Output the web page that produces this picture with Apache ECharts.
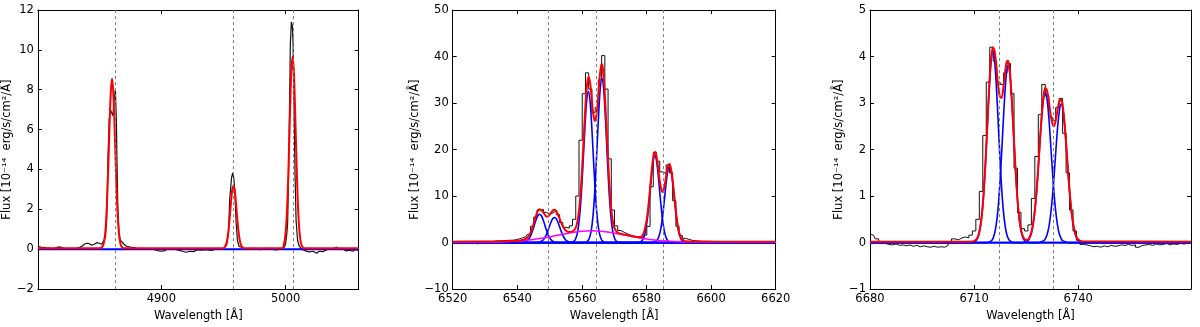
<!DOCTYPE html>
<html><head><meta charset="utf-8">
<script src="https://cdn.jsdelivr.net/npm/echarts@6/dist/echarts.min.js"></script>
<style>html,body{margin:0;padding:0;background:#fff}#c{width:1200px;height:327px}</style>
</head><body><div id="c"></div>
<script>
// ---------- Panel 1 : H-beta + [OIII] ----------
const p1XTicks = [4900, 5000];
const p1YTicks = [-2, 12, 2];
const p1XRange = [4800.6, 5058.8];
const p1Lines = [4862.8, 4958.0, 5006.2];
const p1Black = [[4800.6,0.15],[4802,0.12],[4804,0.08],[4806,0.1],[4808,0.05],[4810,0.06],[4812,0.03],[4814,0.05],[4816,0.1],[4818,0.12],[4820,0.08],[4822,0.03],[4824,0.05],[4826,0.02],[4828,0.0],[4830,0.02],[4832,0.05],[4834,0.08],[4836,0.15],[4838,0.25],[4840,0.3],[4842,0.28],[4844,0.2],[4846,0.25],[4848,0.33],[4850,0.3],[4852,0.25],[4853.5,0.35],[4855,0.6],[4856,1.5],[4857,4.5],[4858,6.5],[4859,7.0],[4860,7.1],[4861,6.7],[4862,7.5],[4863,8.0],[4863.8,6.5],[4864.4,4.0],[4865,2.0],[4866,0.8],[4867,0.45],[4868,0.35],[4870,0.25],[4872,0.15],[4874,0.12],[4876,0.1],[4878,0.08],[4880,0.05],[4884,0.03],[4888,0.0],[4892,0.02],[4896,-0.05],[4899,-0.1],[4902,-0.08],[4905,0.0],[4909,0.02],[4913,-0.03],[4917,-0.1],[4920,-0.15],[4923,-0.1],[4926,-0.12],[4929,-0.03],[4932,-0.05],[4936,-0.02],[4940,-0.06],[4944,0.0],[4947,0.02],[4950,0.05],[4952.5,0.2],[4954,0.8],[4955,2.5],[4956.5,3.6],[4957.4,3.83],[4958.4,3.5],[4959.2,2.8],[4960.1,1.4],[4961.2,0.45],[4962.5,0.15],[4964,0.05],[4968,0.0],[4972,0.05],[4976,0.02],[4980,-0.02],[4984,0.05],[4988,0.0],[4992,-0.03],[4996,0.02],[4999,0.1],[5000,0.28],[5001,0.8],[5001.6,1.3],[5002.4,3.8],[5003.2,7.4],[5003.8,10.3],[5004.6,11.4],[5005.4,11.2],[5006,10.3],[5006.8,7.0],[5007.6,3.7],[5008.4,1.45],[5009.6,0.45],[5011,0.15],[5013,0.0],[5016,-0.08],[5019,-0.13],[5022,-0.1],[5025,-0.2],[5027,-0.1],[5030,-0.12],[5033,-0.02],[5036,0.0],[5039,0.05],[5041,0.1],[5043,0.03],[5046,0.0],[5049,-0.08],[5051,-0.05],[5054,-0.1],[5056,-0.03],[5058.8,-0.05]];
const p1Red = [[4800.6,0.05],[4850,0.05],[4851.3,0.06],[4852.3,0.1],[4853.3,0.22],[4854.3,0.53],[4855.3,1.2],[4856.3,2.41],[4857.3,4.19],[4858.3,6.22],[4859.3,7.9],[4860.3,8.55],[4861.3,7.9],[4862.3,6.22],[4863.3,4.19],[4864.3,2.41],[4865.3,1.2],[4866.3,0.53],[4867.3,0.22],[4868.3,0.1],[4869.3,0.06],[4870,0.05],[4950,0.05],[4951,0.11],[4952,0.23],[4953,0.48],[4954,0.93],[4955,1.58],[4956,2.34],[4957,2.96],[4958,3.2],[4959,2.96],[4960,2.34],[4961,1.58],[4962,0.93],[4963,0.48],[4964,0.23],[4965,0.11],[4966,0.05],[4997.6,0.05],[4998.6,0.24],[4999.6,0.59],[5000.6,1.35],[5001.6,2.72],[5002.6,4.73],[5003.6,7.02],[5004.6,8.91],[5005.6,9.65],[5006.6,8.91],[5007.6,7.02],[5008.6,4.73],[5009.6,2.72],[5010.6,1.35],[5011.6,0.59],[5012.6,0.24],[5013.6,0.11],[5014.6,0.05],[5058.8,0.05]];
const p1Blue = [[4800.6,0],[5058.8,0]];

// ---------- Panel 2 : H-alpha + [NII] ----------
const p2XTicks = [6520, 6620, 20];
const p2YTicks = [-10, 50, 10];
const p2Lines = [6549.6, 6564.5, 6585.2];
const p2Black = [[6520.6,0.2],[6521.6,0.15],[6522.6,0.2],[6523.6,0.1],[6524.6,0.15],[6525.6,0.2],[6526.6,0.1],[6527.6,-0.3],[6528.6,0.05],[6529.6,0.15],[6530.6,0.2],[6531.6,0.2],[6532.6,0.25],[6533.6,0.35],[6534.6,0.4],[6535.6,0.4],[6536.6,0.45],[6537.6,0.5],[6538.6,0.5],[6539.6,0.6],[6540.6,0.8],[6541.6,1.0],[6542.6,1.2],[6543.6,1.8],[6544.6,3.5],[6545.6,5.5],[6546.6,7.0],[6547.6,7.1],[6548.6,6.5],[6549.6,6.1],[6550.6,6.4],[6551.6,6.8],[6552.6,6.0],[6553.6,4.3],[6554.6,3.3],[6555.6,3.1],[6556.6,3.6],[6557.6,5.0],[6558.6,10],[6559.6,22],[6560.6,32],[6561.6,36.5],[6562.6,33],[6563.6,28],[6564.6,29],[6565.6,35],[6566.6,40.2],[6567.6,33],[6568.6,18],[6569.6,7],[6570.6,3.6],[6571.6,2.6],[6572.6,2.2],[6573.6,1.9],[6574.6,1.6],[6575.6,1.4],[6576.6,1.2],[6577.6,1.0],[6578.6,1.1],[6579.6,1.6],[6580.6,3.5],[6581.6,12],[6582.6,19.4],[6583.6,17.5],[6584.6,15.2],[6585.6,14.8],[6586.6,16.7],[6587.6,15],[6588.6,9],[6589.6,3.5],[6590.6,1.5],[6591.6,0.9],[6592.6,0.7],[6593.6,0.5],[6594.6,0.4],[6595.6,0.3],[6597.6,0.22],[6600.6,0.2],[6605.6,0.2],[6610.6,0.22],[6615.6,0.2],[6619.6,0.2]];
const p2Broad = [[6520,0.1],[6533,0.14],[6536,0.19],[6539,0.28],[6542,0.43],[6545,0.66],[6548,0.98],[6551,1.37],[6554,1.8],[6557,2.18],[6560,2.45],[6563,2.55],[6566,2.45],[6569,2.18],[6572,1.8],[6575,1.37],[6578,0.98],[6581,0.66],[6584,0.43],[6587,0.28],[6590,0.19],[6593,0.14],[6600,0.11],[6620,0.1]];
const p2Comp1 = [[6520,0],[6540.9,0],[6541.9,0.06],[6542.4,0.15],[6542.9,0.32],[6543.4,0.65],[6543.9,1.17],[6544.4,1.93],[6544.9,2.93],[6545.4,4.04],[6545.9,5.08],[6546.4,5.83],[6546.9,6.1],[6547.4,5.83],[6547.9,5.08],[6548.4,4.04],[6548.9,2.93],[6549.4,1.93],[6549.9,1.17],[6550.4,0.65],[6550.9,0.32],[6551.4,0.15],[6551.9,0.06],[6552.9,0],[6620,0]];
const p2Comp2 = [[6520,0],[6545.5,0],[6546.5,0.05],[6547,0.13],[6547.5,0.29],[6548,0.57],[6548.5,1.04],[6549,1.71],[6549.5,2.59],[6550,3.57],[6550.5,4.49],[6551,5.16],[6551.5,5.4],[6552,5.16],[6552.5,4.49],[6553,3.57],[6553.5,2.59],[6554,1.71],[6554.5,1.04],[6555,0.57],[6555.5,0.29],[6556,0.13],[6556.5,0.05],[6557.5,0],[6620,0]];
const p2Comp3 = [[6520,0],[6556,0],[6556.5,0.02],[6557,0.08],[6557.5,0.26],[6558,0.72],[6558.5,1.76],[6559,3.8],[6559.5,7.35],[6560,12.5],[6560.5,19.0],[6561,25.6],[6561.5,30.6],[6562,32.5],[6562.5,30.6],[6563,25.6],[6563.5,19.0],[6564,12.5],[6564.5,7.35],[6565,3.8],[6565.5,1.76],[6566,0.72],[6566.5,0.26],[6567,0.08],[6567.5,0.02],[6568,0],[6620,0]];
const p2Comp4 = [[6520,0],[6560.2,0],[6560.7,0.02],[6561.2,0.09],[6561.7,0.28],[6562.2,0.78],[6562.7,1.91],[6563.2,4.13],[6563.7,7.98],[6564.2,13.6],[6564.7,20.7],[6565.2,27.8],[6565.7,33.3],[6566.2,35.3],[6566.7,33.3],[6567.2,27.8],[6567.7,20.7],[6568.2,13.6],[6568.7,7.98],[6569.2,4.13],[6569.7,1.91],[6570.2,0.78],[6570.7,0.28],[6571.2,0.09],[6571.7,0.02],[6572.2,0],[6620,0]];
const p2Comp5 = [[6520,0],[6577.1,0],[6577.6,0.05],[6578.1,0.15],[6578.6,0.41],[6579.1,1.01],[6579.6,2.19],[6580.1,4.23],[6580.6,7.2],[6581.1,10.9],[6581.6,14.7],[6582.1,17.6],[6582.6,18.7],[6583.1,17.6],[6583.6,14.7],[6584.1,10.9],[6584.6,7.2],[6585.1,4.23],[6585.6,2.19],[6586.1,1.01],[6586.6,0.41],[6587.1,0.15],[6587.6,0.05],[6588.1,0],[6620,0]];
const p2Comp6 = [[6520,0],[6581.6,0],[6582.1,0.04],[6582.6,0.13],[6583.1,0.36],[6583.6,0.89],[6584.1,1.92],[6584.6,3.71],[6585.1,6.33],[6585.6,9.6],[6586.1,12.9],[6586.6,15.4],[6587.1,16.4],[6587.6,15.4],[6588.1,12.9],[6588.6,9.6],[6589.1,6.33],[6589.6,3.71],[6590.1,1.92],[6590.6,0.89],[6591.1,0.36],[6591.6,0.13],[6592.1,0.04],[6592.6,0],[6620,0]];
const p2Red = [[6520,0.2],[6530,0.22],[6535,0.27],[6538,0.34],[6540,0.42],[6541,0.47],[6542,0.6],[6543,0.97],[6544,1.97],[6545,3.9],[6546,6.18],[6546.9,7.15],[6548,6.55],[6549,5.61],[6549.5,5.62],[6550,5.95],[6551,6.91],[6551.5,7.05],[6552,6.82],[6553,5.33],[6554,3.61],[6555,2.6],[6556,2.29],[6557,2.36],[6558,3.1],[6558.5,4.18],[6559,6.27],[6559.5,9.86],[6560,15.05],[6560.5,21.6],[6561,28.26],[6561.5,33.4],[6562,35.64],[6562.5,34.55],[6563,31.25],[6563.5,27.65],[6564,26.14],[6564.5,27.38],[6565,30.8],[6565.5,35.6],[6566,38.27],[6566.2,38.34],[6566.5,37.4],[6567,33.1],[6567.5,26.3],[6568,19.1],[6568.5,12.7],[6569,7.8],[6569.5,4.8],[6570,3.26],[6571,2.17],[6572,1.9],[6574,1.62],[6576,1.33],[6578,1.2],[6579,1.81],[6580,4.64],[6580.5,7.31],[6581,10.86],[6581.5,14.72],[6582,17.87],[6582.6,19.46],[6583,18.9],[6583.5,16.73],[6584,13.79],[6584.5,11.7],[6585,10.87],[6585.5,11.84],[6586,13.92],[6586.5,16.0],[6587.1,16.92],[6587.5,16.15],[6588,13.84],[6588.5,10.72],[6589,7.31],[6589.5,4.5],[6590,2.49],[6590.5,1.32],[6591,0.7],[6592,0.31],[6594,0.24],[6600,0.21],[6620,0.2]];

// ---------- Panel 3 : [SII] ----------
const p3XTicks = [6680, 6710, 6740];
const p3YTicks = [-1, 5, 1];
const p3XRange = [6680, 6772.5];
const p3Lines = [6717.2, 6732.7];
const p3Black = [[6680,0.18],[6681,0.16],[6682,0.08],[6683,0.0],[6684,-0.02],[6685,-0.04],[6686,-0.05],[6687,-0.03],[6688,-0.06],[6689,-0.05],[6690,-0.07],[6691,-0.05],[6692,-0.08],[6693,-0.06],[6694,-0.09],[6695,-0.07],[6696,-0.09],[6697,-0.1],[6698,-0.08],[6699,-0.1],[6700,-0.09],[6701,-0.1],[6702,-0.06],[6703,0.0],[6704,0.08],[6705,0.06],[6706,0.1],[6707,0.12],[6708,0.1],[6709,0.16],[6710,0.25],[6711,0.5],[6712,1.1],[6713,2.3],[6714,3.45],[6715,4.2],[6716,3.9],[6717,3.45],[6718,3.4],[6719,3.65],[6720,3.85],[6721,3.2],[6722,1.6],[6723,0.65],[6724,0.3],[6725,0.25],[6726,0.38],[6727,0.95],[6728,1.85],[6729,2.75],[6730,3.4],[6731,3.15],[6732,2.7],[6733,2.62],[6734,2.9],[6735,3.1],[6736,2.35],[6737,1.5],[6738,0.7],[6739,0.25],[6740,0.05],[6741,-0.04],[6742,-0.05],[6743,-0.07],[6744,-0.09],[6745,-0.08],[6746,-0.1],[6747,-0.07],[6748,-0.09],[6749,-0.06],[6750,-0.08],[6751,-0.07],[6752,-0.05],[6753,-0.06],[6754,-0.04],[6755,-0.06],[6756,-0.05],[6757,-0.1],[6758,-0.06],[6759,-0.05],[6760,-0.04],[6761,-0.06],[6762,-0.03],[6763,-0.05],[6764,-0.04],[6765,-0.02],[6766,-0.05],[6767,-0.03],[6768,-0.04],[6769,-0.02],[6770,-0.03],[6771,-0.01],[6772,0.03]];
const p3Comp1 = [[6680,0],[6709.4,0],[6710.4,0.03],[6710.9,0.08],[6711.4,0.18],[6711.9,0.38],[6712.4,0.71],[6712.9,1.21],[6713.4,1.88],[6713.9,2.65],[6714.4,3.38],[6714.9,3.91],[6715.4,4.11],[6715.9,3.91],[6716.4,3.38],[6716.9,2.65],[6717.4,1.88],[6717.9,1.21],[6718.4,0.71],[6718.9,0.38],[6719.4,0.18],[6719.9,0.08],[6720.4,0.03],[6721.4,0],[6772.5,0]];
const p3Comp2 = [[6680,0],[6713.8,0],[6714.8,0.03],[6715.3,0.07],[6715.8,0.17],[6716.3,0.35],[6716.8,0.65],[6717.3,1.12],[6717.8,1.74],[6718.3,2.45],[6718.8,3.13],[6719.3,3.62],[6719.8,3.8],[6720.3,3.62],[6720.8,3.13],[6721.3,2.45],[6721.8,1.74],[6722.3,1.12],[6722.8,0.65],[6723.3,0.35],[6723.8,0.17],[6724.3,0.07],[6724.8,0.03],[6725.8,0],[6772.5,0]];
const p3Comp3 = [[6680,0],[6724,0],[6724.5,0.01],[6725.5,0.04],[6726,0.1],[6726.5,0.2],[6727,0.39],[6727.5,0.68],[6728,1.09],[6728.5,1.62],[6729,2.19],[6729.5,2.72],[6730,3.09],[6730.5,3.23],[6731,3.09],[6731.5,2.72],[6732,2.19],[6732.5,1.62],[6733,1.09],[6733.5,0.68],[6734,0.39],[6734.5,0.2],[6735,0.1],[6735.5,0.04],[6736.5,0.01],[6737,0],[6772.5,0]];
const p3Comp4 = [[6680,0],[6728.6,0],[6729.1,0.01],[6730.1,0.04],[6730.6,0.09],[6731.1,0.19],[6731.6,0.36],[6732.1,0.63],[6732.6,1.01],[6733.1,1.49],[6733.6,2.02],[6734.1,2.51],[6734.6,2.85],[6735.1,2.98],[6735.6,2.85],[6736.1,2.51],[6736.6,2.02],[6737.1,1.49],[6737.6,1.01],[6738.1,0.63],[6738.6,0.36],[6739.1,0.19],[6739.6,0.09],[6740.1,0.04],[6741.1,0.01],[6741.6,0],[6772.5,0]];
const p3Red = [[6680,0.02],[6709,0.02],[6710,0.03],[6710.9,0.1],[6711.4,0.2],[6711.9,0.4],[6712.4,0.73],[6712.9,1.23],[6713.4,1.9],[6713.9,2.67],[6714.4,3.41],[6714.9,3.96],[6715.4,4.2],[6715.9,4.12],[6716.4,3.8],[6716.9,3.39],[6717.4,3.14],[6717.9,3.11],[6718.4,3.31],[6718.9,3.65],[6719.4,3.89],[6719.8,3.91],[6720.3,3.67],[6720.8,3.15],[6721.3,2.47],[6721.8,1.76],[6722.3,1.14],[6722.8,0.67],[6723.3,0.37],[6723.8,0.19],[6724.3,0.1],[6724.8,0.06],[6725.3,0.06],[6725.8,0.09],[6726.5,0.22],[6727,0.41],[6727.5,0.7],[6728,1.11],[6728.5,1.64],[6729,2.22],[6729.5,2.75],[6730,3.14],[6730.5,3.33],[6731,3.27],[6731.5,3.06],[6732,2.78],[6732.5,2.57],[6733,2.5],[6733.5,2.62],[6734,2.84],[6734.5,3.02],[6735.1,3.08],[6735.6,2.9],[6736.1,2.54],[6736.6,2.04],[6737.1,1.51],[6737.6,1.03],[6738.1,0.65],[6738.6,0.38],[6739.1,0.21],[6739.6,0.11],[6740.1,0.06],[6741.1,0.03],[6772.5,0.02]];

// ---------- rendering ----------
const FONT = 'DejaVu Sans';
const FS = 11.5;
const yName = 'Flux [10\u207B\u00B9\u2074  erg/s/cm\u00B2/\u00C5]';
const xName = 'Wavelength [\u00C5]';
const grids = [
  {left: 36, top: 10, width: 322.7, height: 282.7},
  {left: 452.7, top: 10, width: 323, height: 282.7},
  {left: 870, top: 10, width: 321, height: 282.7}
];
const minus = v => String(v).replace('-', '\u2212');
const tickStyle = {show: true, inside: true, length: 4, lineStyle: {color: '#000', width: 1}};
const lineStyleAxis = {show: true, onZero: false, lineStyle: {color: '#000', width: 1}};

function xAxes(gi, range, ticks, custom) {
  const base = {
    type: 'value', gridIndex: gi, min: range[0], max: range[1],
    splitLine: {show: false}, axisLine: lineStyleAxis
  };
  let tickCfg, labelCfg;
  if (custom) {
    tickCfg = Object.assign({}, tickStyle, {customValues: ticks});
    labelCfg = {customValues: ticks, fontFamily: FONT, fontSize: FS, color: '#000', margin: 4, formatter: minus};
  } else {
    base.interval = ticks[2];
    tickCfg = tickStyle;
    labelCfg = {fontFamily: FONT, fontSize: FS, color: '#000', margin: 4, showMinLabel: true, showMaxLabel: true, formatter: minus};
  }
  return [
    Object.assign({}, base, {position: 'bottom', axisTick: tickCfg, axisLabel: labelCfg,
      name: xName, nameLocation: 'middle', nameGap: 15,
      nameTextStyle: {fontFamily: FONT, fontSize: FS, color: '#000'}}),
    Object.assign({}, base, {position: 'top', axisTick: tickCfg, axisLabel: {show: false}})
  ];
}
function yAxes(gi, t, gap) {
  const base = {
    type: 'value', gridIndex: gi, min: t[0], max: t[1], interval: t[2],
    splitLine: {show: false}, axisLine: lineStyleAxis, axisTick: tickStyle
  };
  return [
    Object.assign({}, base, {position: 'left',
      axisLabel: {fontFamily: FONT, fontSize: FS, color: '#000', margin: 4, showMinLabel: true, showMaxLabel: true, formatter: minus},
      name: yName, nameLocation: 'middle', nameGap: gap, nameRotate: 90,
      nameTextStyle: {fontFamily: FONT, fontSize: FS, color: '#000'}}),
    Object.assign({}, base, {position: 'right', axisLabel: {show: false}})
  ];
}

const xAxis = [].concat(
  xAxes(0, p1XRange, p1XTicks, true),
  xAxes(1, [p2XTicks[0], p2XTicks[1]], p2XTicks, false),
  xAxes(2, p3XRange, p3XTicks, true)
);
const yAxis = [].concat(
  yAxes(0, p1YTicks, 17),
  yAxes(1, p2YTicks, 26),
  yAxes(2, p3YTicks, 16)
);

function ser(axisIdx, data, color, width, opts) {
  return Object.assign({
    type: 'line', xAxisIndex: axisIdx, yAxisIndex: axisIdx, data: data,
    showSymbol: false, symbol: 'none', silent: true, animation: false,
    lineStyle: {color: color, width: width}
  }, opts || {});
}
function vlines(axisIdx, xs) {
  return ser(axisIdx, [], '#808080', 1, {
    markLine: {
      silent: true, symbol: ['none', 'none'], label: {show: false}, animation: false,
      lineStyle: {color: '#7f7f7f', width: 1, type: [3, 3]},
      data: xs.map(x => ({xAxis: x}))
    }
  });
}

const series = [
  // panel 1 (axis index 0)
  vlines(0, p1Lines),
  ser(0, p1Black, '#111', 1.2),
  ser(0, p1Blue, '#0000ff', 2),
  ser(0, p1Red, '#ff0000', 2, {smooth: 0.3}),
  // panel 2 (axis index 2)
  vlines(2, p2Lines),
  ser(2, p2Black, '#111', 1, {step: 'middle'}),
  ser(2, p2Comp1, '#0000ff', 1.6, {smooth: 0.3}),
  ser(2, p2Comp2, '#0000ff', 1.6, {smooth: 0.3}),
  ser(2, p2Comp3, '#0000ff', 1.6, {smooth: 0.3}),
  ser(2, p2Comp4, '#0000ff', 1.6, {smooth: 0.3}),
  ser(2, p2Comp5, '#0000ff', 1.6, {smooth: 0.3}),
  ser(2, p2Comp6, '#0000ff', 1.6, {smooth: 0.3}),
  ser(2, p2Broad, '#ff00ff', 1.6, {smooth: 0.3}),
  ser(2, p2Red, '#ff0000', 2, {smooth: 0.3}),
  // panel 3 (axis index 4)
  vlines(4, p3Lines),
  ser(4, p3Black, '#111', 1, {step: 'middle'}),
  ser(4, p3Comp1, '#0000ff', 1.6, {smooth: 0.3}),
  ser(4, p3Comp2, '#0000ff', 1.6, {smooth: 0.3}),
  ser(4, p3Comp3, '#0000ff', 1.6, {smooth: 0.3}),
  ser(4, p3Comp4, '#0000ff', 1.6, {smooth: 0.3}),
  ser(4, p3Red, '#ff0000', 2, {smooth: 0.3})
];

const chart = echarts.init(document.getElementById('c'), null, {renderer: 'canvas'});
chart.setOption({
  animation: false,
  backgroundColor: '#ffffff',
  textStyle: {fontFamily: FONT},
  grid: grids,
  xAxis: xAxis,
  yAxis: yAxis,
  series: series
});
</script></body></html>
